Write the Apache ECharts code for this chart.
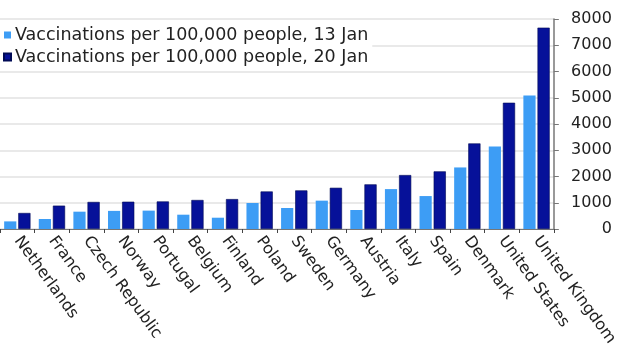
<!DOCTYPE html>
<html>
<head>
<meta charset="utf-8">
<script src="https://cdn.jsdelivr.net/npm/echarts@6/dist/echarts.min.js"></script>
<style>html,body{margin:0;padding:0;background:#fff;}#c{width:620px;height:351px;}</style>
</head>
<body>
<div id="c"></div>
<script>
const categories = ["Netherlands","France","Czech Republic","Norway","Portugal","Belgium","Finland","Poland","Sweden","Germany","Austria","Italy","Spain","Denmark","United States","United Kingdom"];
const jan13 = [290, 380, 660, 690, 700, 545, 430, 990, 800, 1080, 725, 1520, 1255, 2345, 3145, 5090];
const jan20 = [610, 890, 1030, 1040, 1050, 1105, 1140, 1430, 1470, 1570, 1700, 2055, 2195, 3260, 4810, 7670];
const seriesNames = ["Vaccinations per 100,000 people, 13 Jan", "Vaccinations per 100,000 people, 20 Jan"];
const yTicks = {min: 0, max: 8000, interval: 1000};

const chart = echarts.init(document.getElementById('c'), null, {renderer: 'canvas'});
const font = '"DejaVu Sans", Verdana, sans-serif';
chart.setOption({
  animation: false,
  backgroundColor: '#fff',
  textStyle: {fontFamily: font},
  grid: {left: -1, right: 59, top: 19, bottom: 122, containLabel: false},
  legend: {
    orient: 'vertical', left: 0, top: 23,
    itemWidth: 7, itemHeight: 7, itemGap: 4,
    backgroundColor: '#fff', padding: [3, 4, 3, 3],
    icon: 'rect',
    textStyle: {fontSize: 17.5, color: '#222', fontFamily: font, padding: [0, 0, 0, -1]},
    data: seriesNames
  },
  xAxis: {
    type: 'category', data: categories,
    axisLine: {lineStyle: {color: '#777', width: 1}},
    axisTick: {show: true, length: 4, lineStyle: {color: '#444'}},
    axisLabel: {rotate: -54, fontSize: 16, color: '#222', margin: 9, interval: 0, fontFamily: font}
  },
  yAxis: {
    type: 'value', position: 'right', min: yTicks.min, max: yTicks.max, interval: yTicks.interval,
    axisLine: {show: true, lineStyle: {color: '#777', width: 1.5}},
    axisTick: {show: true, length: 5, lineStyle: {color: '#777'}},
    axisLabel: {fontSize: 16, color: '#222', align: 'right', margin: 58, fontFamily: font,
      formatter: function (v) { return String(v); }},
    splitLine: {show: true, lineStyle: {color: '#e2e2e2', width: 1.5}}
  },
  series: [
    {name: seriesNames[0], type: 'bar', data: jan13, barGap: '16%', barCategoryGap: '24%',
     itemStyle: {color: '#3d9df5'}},
    {name: seriesNames[1], type: 'bar', data: jan20,
     itemStyle: {color: '#061199', borderColor: '#000a55', borderWidth: 0.6}}
  ]
});
</script>
</body>
</html>
